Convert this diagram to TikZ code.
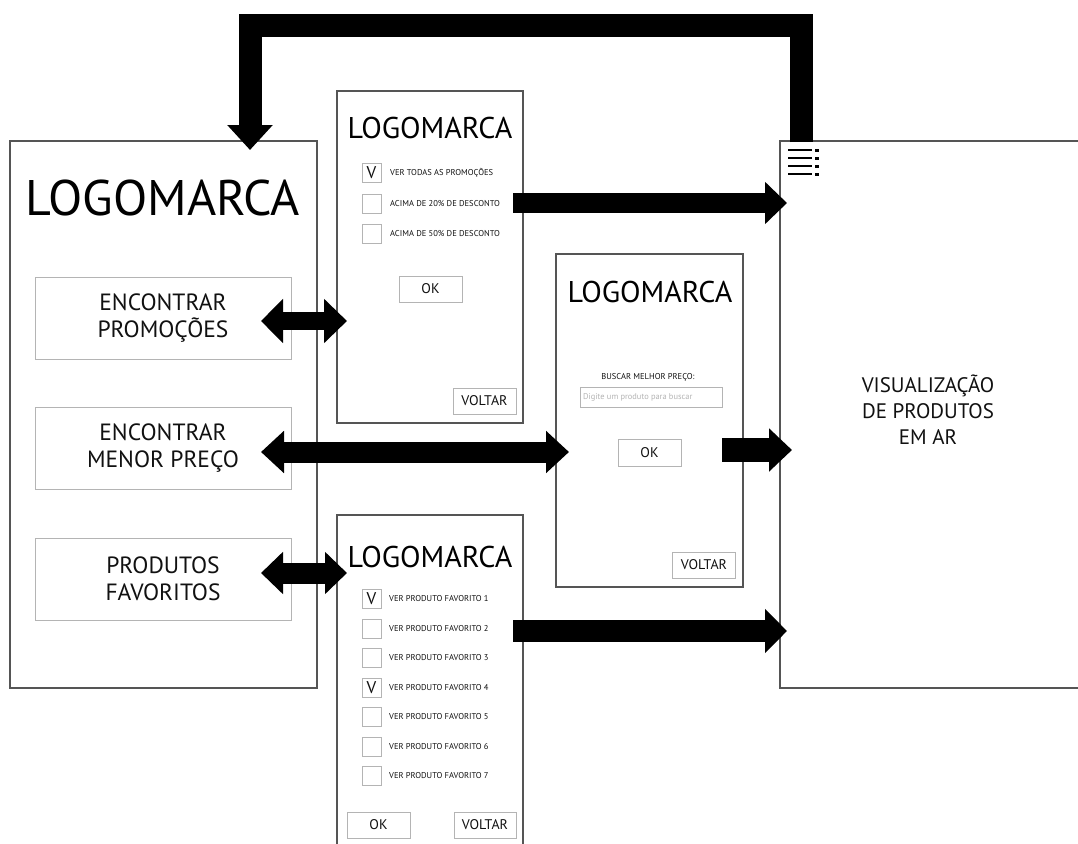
\documentclass[tikz,border=0pt]{standalone}
\usepackage{fontspec}
\setmainfont{PT Sans}
\usetikzlibrary{arrows.meta,calc}

\definecolor{frame}{HTML}{555555}
\definecolor{soft}{HTML}{B4B4B4}
\definecolor{ink}{HTML}{111111}

\tikzset{
  screen/.style={draw=frame, line width=1.2pt, fill=white, inner sep=0pt},
  menubtn/.style={draw=soft, line width=0.9pt, inner sep=0pt, minimum width=256pt, minimum height=82pt,
    align=center, text=ink, font=\fontsize{23.5}{27}\selectfont},
  smallbtn/.style={draw=soft, line width=0.9pt, inner sep=0pt, minimum width=63pt, minimum height=26pt,
    text=ink, font=\fontsize{14}{15}\selectfont},
  checkbox/.style={draw=soft, line width=0.9pt, inner sep=0pt, minimum width=19pt, minimum height=19pt,
    text=ink, font=\fontsize{17}{17}\selectfont},
  optlabel/.style={anchor=west, inner sep=0pt, text=ink, font=\fontsize{8.5}{9}\selectfont},
  logo/.style={inner sep=0pt, text=black, font=\fontsize{30}{32}\selectfont},
  flowarrow/.style={draw=black, line join=miter},
}

\begin{document}
\begin{tikzpicture}[x=1pt, y=-1pt]
\useasboundingbox[fill=white] (0,0) rectangle (1078,843);

% ---------- home screen ----------
\node[screen, minimum width=307pt, minimum height=547pt] (home) at (163.5,414.5) {};
\node[inner sep=0pt, font=\fontsize{50}{52}\selectfont] (homelogo) at (163,198) {LOGOMARCA};
\node[menubtn] (btnpromo) at (163,318) {ENCONTRAR\\PROMOÇÕES};
\node[menubtn] (btnpreco) at (163,448) {ENCONTRAR\\MENOR PREÇO};
\node[menubtn] (btnfav)   at (163,579) {PRODUTOS\\FAVORITOS};

% ---------- AR view screen ----------
\node[screen, minimum width=320pt, minimum height=547pt] (arview) at (940,414.5) {};
\node[align=center, inner sep=0pt, text=ink, font=\fontsize{21}{26}\selectfont] (artext) at (928,410)
  {VISUALIZAÇÃO\\DE PRODUTOS\\EM AR};
% menu icon
\foreach \yy [count=\k] in {150,158,166,174} {
  \draw[line width=2.6pt] (788,\yy) -- (812,\yy);
  \fill (815,\yy-1.5) rectangle (818.5,\yy+1.5);
}

% ---------- promotions screen ----------
\node[screen, minimum width=186pt, minimum height=332pt] (promo) at (430,257) {};
\node[logo] (promologo) at (430,128) {LOGOMARCA};
\node[checkbox] (pc1) at (371.5,173) {V};
\node[checkbox] (pc2) at (371.5,204) {};
\node[checkbox] (pc3) at (371.5,234) {};
\node[optlabel] (pl1) at (390,173) {VER TODAS AS PROMOÇÕES};
\node[optlabel] (pl2) at (390,204) {ACIMA DE 20\% DE DESCONTO};
\node[optlabel] (pl3) at (390,234) {ACIMA DE 50\% DE DESCONTO};
\node[smallbtn] (promook) at (430.5,289) {OK};
\node[smallbtn] (promoback) at (484.5,401) {VOLTAR};

% ---------- best price screen ----------
\node[screen, minimum width=187pt, minimum height=333pt] (search) at (649.5,420.5) {};
\node[logo] (searchlogo) at (650,292) {LOGOMARCA};
\node[inner sep=0pt, text=ink, font=\fontsize{8.5}{9}\selectfont] (searchlbl) at (648,377) {BUSCAR MELHOR PREÇO:};
\node[draw=soft, line width=0.9pt, inner sep=0pt, minimum width=142pt, minimum height=20pt] (searchbox) at (651,397) {};
\node[anchor=west, inner sep=0pt, text=soft, font=\fontsize{8.4}{9}\selectfont] (searchhint) at (583,397)
  {Digite um produto para buscar};
\node[smallbtn, minimum height=27pt] (searchok) at (649.5,452.5) {OK};
\node[smallbtn] (searchback) at (704,565) {VOLTAR};

% ---------- favourites screen ----------
\node[screen, minimum width=186pt, minimum height=331pt] (fav) at (430,680.5) {};
\node[logo] (favlogo) at (430,557) {LOGOMARCA};
\foreach \i/\mark in {1/V,2/,3/,4/V,5/,6/,7/} {
  \node[checkbox] (fc\i) at (371.5,{599+29.5*(\i-1)}) {\mark};
  \node[optlabel] (fl\i) at (389,{599+29.5*(\i-1)}) {VER PRODUTO FAVORITO \i};
}
\node[smallbtn] (favok) at (378.5,825) {OK};
\node[smallbtn, minimum width=62pt] (favback) at (485,825) {VOLTAR};

% ---------- connector end points ----------
\coordinate (p1a) at (513,203);  \coordinate (p1b) at (787,203);
\coordinate (p2a) at (261,321);  \coordinate (p2b) at (347,321);
\coordinate (p3a) at (261,452);  \coordinate (p3b) at (569,452);
\coordinate (p4a) at (722,450);  \coordinate (p4b) at (792,450);
\coordinate (p5a) at (261,573);  \coordinate (p5b) at (347,573);
\coordinate (p6a) at (513,631);  \coordinate (p6b) at (787,631);
\coordinate (loopa) at (801,142); \coordinate (loopb) at (250,150);

% ---------- connectors ----------
\draw[flowarrow, line width=20pt, -{Triangle[length=22pt,width=41pt]}] (p1a) -- (p1b);
\draw[flowarrow, line width=18pt, {Triangle[length=22pt,width=43pt]}-{Triangle[length=23pt,width=43pt]}] (p2a) -- (p2b);
\draw[flowarrow, line width=21pt, {Triangle[length=23pt,width=41pt]}-{Triangle[length=23pt,width=41pt]}] (p3a) -- (p3b);
\draw[flowarrow, line width=24pt, -{Triangle[length=23pt,width=42pt]}] (p4a) -- (p4b);
\draw[flowarrow, line width=21pt, {Triangle[length=22pt,width=41pt]}-{Triangle[length=22pt,width=41pt]}] (p5a) -- (p5b);
\draw[flowarrow, line width=22pt, -{Triangle[length=22pt,width=43pt]}] (p6a) -- (p6b);
\draw[flowarrow, line width=23pt, -{Triangle[length=25pt,width=44pt]}] (loopa) |- (250,26) -- (loopb);

\end{tikzpicture}
\end{document}
